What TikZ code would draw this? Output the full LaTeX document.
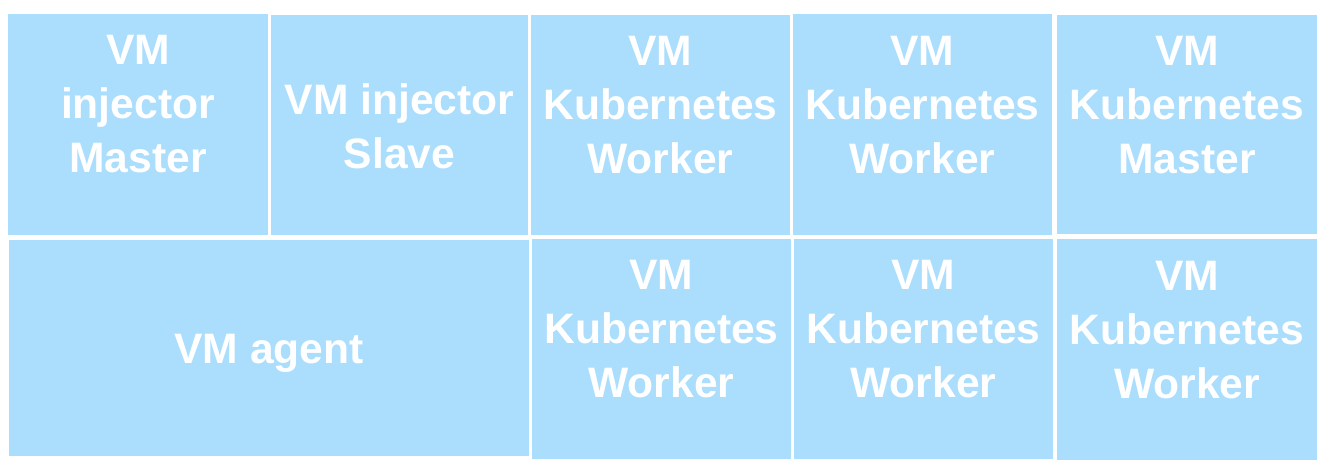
\documentclass[tikz,border=0pt]{standalone}
\usepackage{fontspec}
\setmainfont{Liberation Sans}
\definecolor{vmblue}{HTML}{ABDDFC}

\tikzset{
  vmbox/.style={rectangle, fill=vmblue, inner sep=0pt},
  vmlabel/.style={text=white, align=center, font=\fontsize{42.6}{54}\selectfont\bfseries}
}

\begin{document}
\begin{tikzpicture}[x=1pt, y=-1pt]
  \useasboundingbox (0,0) rectangle (1326,472);
  % top row
  \node[vmbox, minimum width=260pt, minimum height=221pt] (injm) at (138,124.5) {};
  \node[vmbox, minimum width=257pt, minimum height=220pt] (injs) at (399.5,125) {};
  \node[vmbox, minimum width=259pt, minimum height=220pt] (kw1) at (660.5,125) {};
  \node[vmbox, minimum width=259pt, minimum height=221pt] (kw2) at (922.5,124.5) {};
  \node[vmbox, minimum width=260pt, minimum height=219pt] (kmas) at (1187,124.5) {};
  % bottom row
  \node[vmbox, minimum width=520pt, minimum height=216pt] (agent) at (269,348) {};
  \node[vmbox, minimum width=259pt, minimum height=220pt] (kw3) at (661.5,349) {};
  \node[vmbox, minimum width=259pt, minimum height=220pt] (kw4) at (923.5,349) {};
  \node[vmbox, minimum width=260pt, minimum height=221pt] (kw5) at (1187,349.5) {};
  % labels
  \node[vmlabel] (injm-t) at ([yshift=20pt]injm.center) {VM\\injector\\Master};
  \node[vmlabel] (injs-t) at ([yshift=-1.5pt]injs.center) {VM injector\\Slave};
  \node[vmlabel] (kw1-t) at ([yshift=19.5pt]kw1.center) {VM\\Kubernetes\\Worker};
  \node[vmlabel] (kw2-t) at ([yshift=19.5pt]kw2.center) {VM\\Kubernetes\\Worker};
  \node[vmlabel] (kmas-t) at ([yshift=19.5pt]kmas.center) {VM\\Kubernetes\\Master};
  \node[vmlabel] (agent-t) at ([yshift=-5.5pt]agent.center) {VM agent};
  \node[vmlabel] (kw3-t) at ([yshift=19.5pt]kw3.center) {VM\\Kubernetes\\Worker};
  \node[vmlabel] (kw4-t) at ([yshift=19.5pt]kw4.center) {VM\\Kubernetes\\Worker};
  \node[vmlabel] (kw5-t) at ([yshift=19.5pt]kw5.center) {VM\\Kubernetes\\Worker};
\end{tikzpicture}
\end{document}
